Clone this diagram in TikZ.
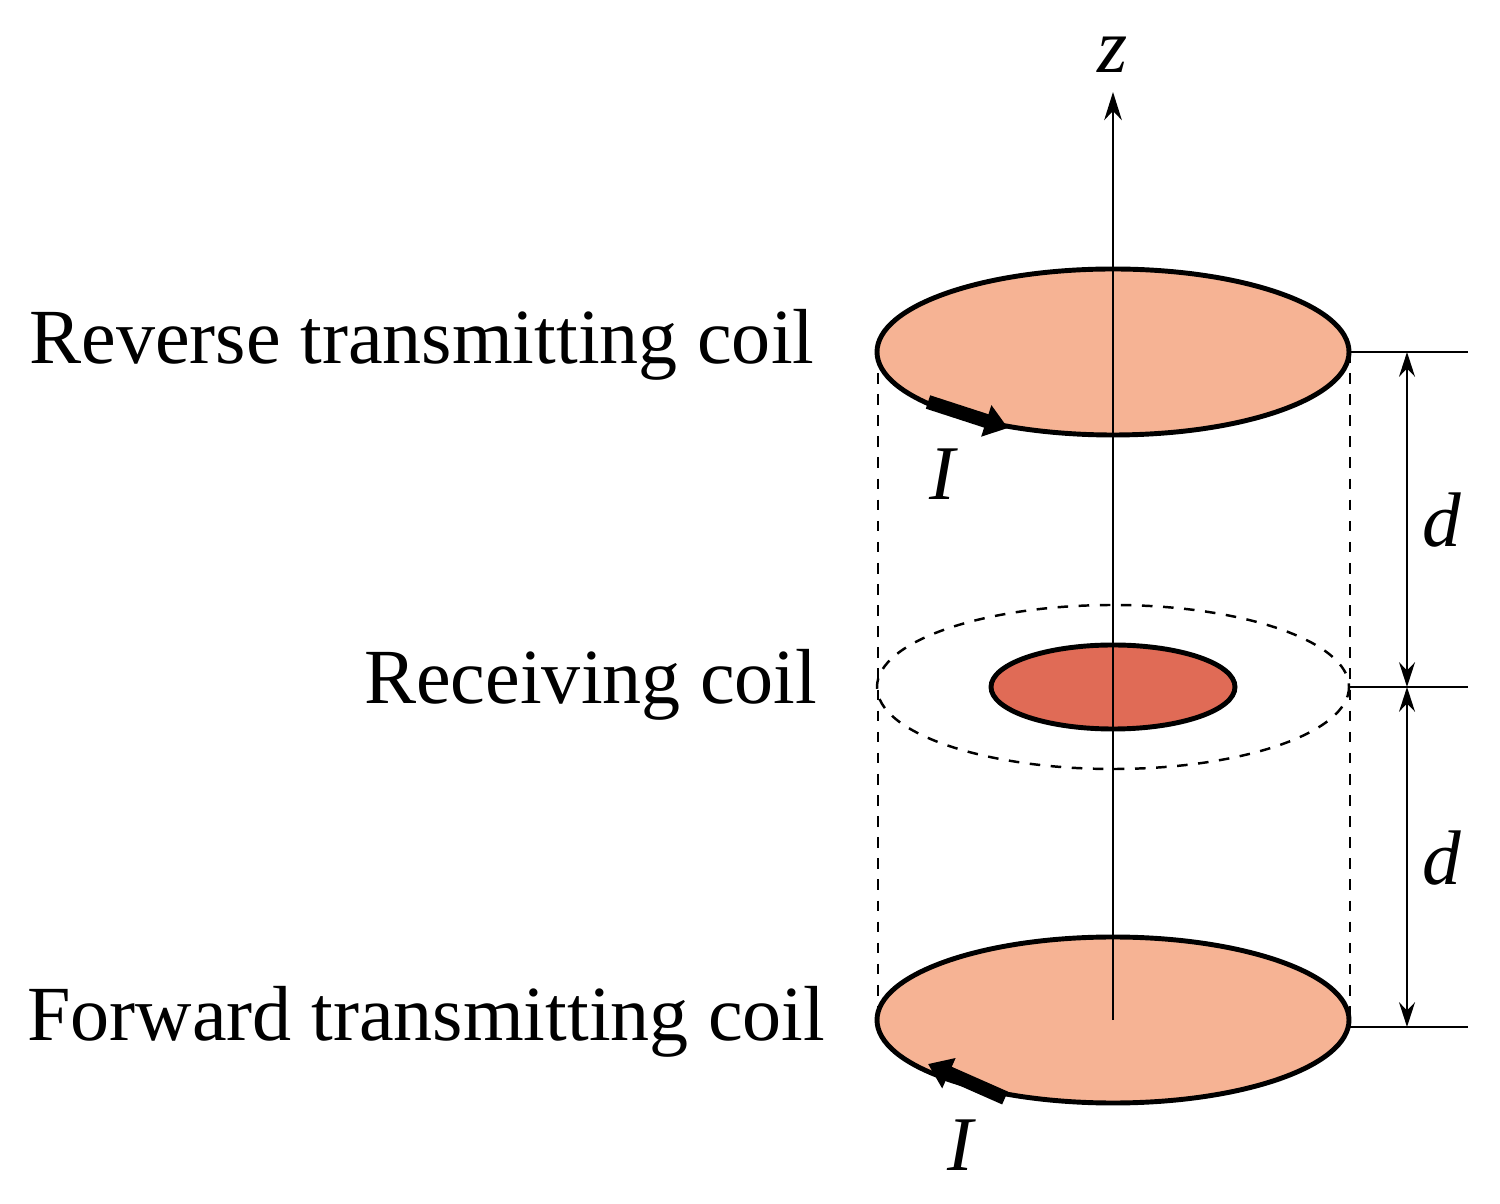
\documentclass[tikz,border=0pt]{standalone}
\usepackage{fontspec}
\setmainfont{Liberation Serif}
\usetikzlibrary{arrows.meta}
\definecolor{coilA}{HTML}{F6B394}
\definecolor{coilB}{HTML}{E06B56}
\begin{document}
\begin{tikzpicture}[x=0.01cm,y=-0.01cm,
 coil/.style={draw=black,line width=1.4pt},
 lbl/.style={font=\fontsize{22.2}{26}\selectfont,anchor=east,inner sep=0},
 var/.style={font=\fontsize{22}{26}\selectfont\itshape,inner sep=0},
 dim/.style={line width=0.75pt,{Stealth[length=7pt,width=4.5pt]}-{Stealth[length=7pt,width=4.5pt]}},
 cur/.style={line width=4pt,-{Triangle[length=6.5pt,width=9pt]}}]
\useasboundingbox (0,0) rectangle (1500,1204);
% dashed cylinder
\draw[dashed,line width=0.7pt] (878,352) coordinate (tl) -- (878,1020) coordinate (bl);
\draw[dashed,line width=0.7pt] (1350,352) coordinate (tr) -- (1350,1020) coordinate (br);
% ellipses
\draw[coil,fill=coilA] (1113,1020) ellipse [x radius=236,y radius=83];
\draw[dashed,line width=0.7pt] (1113,687) ellipse [x radius=236,y radius=82];
\draw[coil,fill=coilB] (1113,687) ellipse [x radius=122,y radius=42];
\draw[coil,fill=coilA] (1113,352) ellipse [x radius=236,y radius=83];
% axis
\coordinate (ax0) at (1113,1020);
\coordinate (ax1) at (1113,92);
\draw[line width=0.75pt,-{Stealth[length=8pt,width=5pt]}] (ax0) -- (ax1);
\node[var] (z) at (1113,55) {z};
% dimension lines
\coordinate (h1a) at (1350,352); \coordinate (h1b) at (1468,352);
\coordinate (h2a) at (1350,687); \coordinate (h2b) at (1468,687);
\coordinate (h3a) at (1350,1027); \coordinate (h3b) at (1468,1027);
\draw[line width=0.75pt] (h1a)--(h1b) (h2a)--(h2b) (h3a)--(h3b);
\coordinate (v1) at (1407,352); \coordinate (v2) at (1407,687); \coordinate (v3) at (1407,1027);
\draw[dim] (v1)--(v2);
\draw[dim] (v2)--(v3);
\node[var] (d1) at (1442,520) {d};
\node[var] (d2) at (1442,858) {d};
% currents
\coordinate (c1a) at (928,402); \coordinate (c1b) at (1008,428);
\draw[cur] (c1a)--(c1b);
\node[var] (I1) at (942,474) {I};
\coordinate (c2a) at (1005,1098); \coordinate (c2b) at (928,1064);
\draw[cur] (c2a)--(c2b);
\node[var] (I2) at (960,1145) {I};
% labels
\node[lbl] (t1) at (815,345) {Reverse transmitting coil};
\node[lbl] (t2) at (818,685) {Receiving coil};
\node[lbl] (t3) at (826,1022) {Forward transmitting coil};
\end{tikzpicture}
\end{document}
